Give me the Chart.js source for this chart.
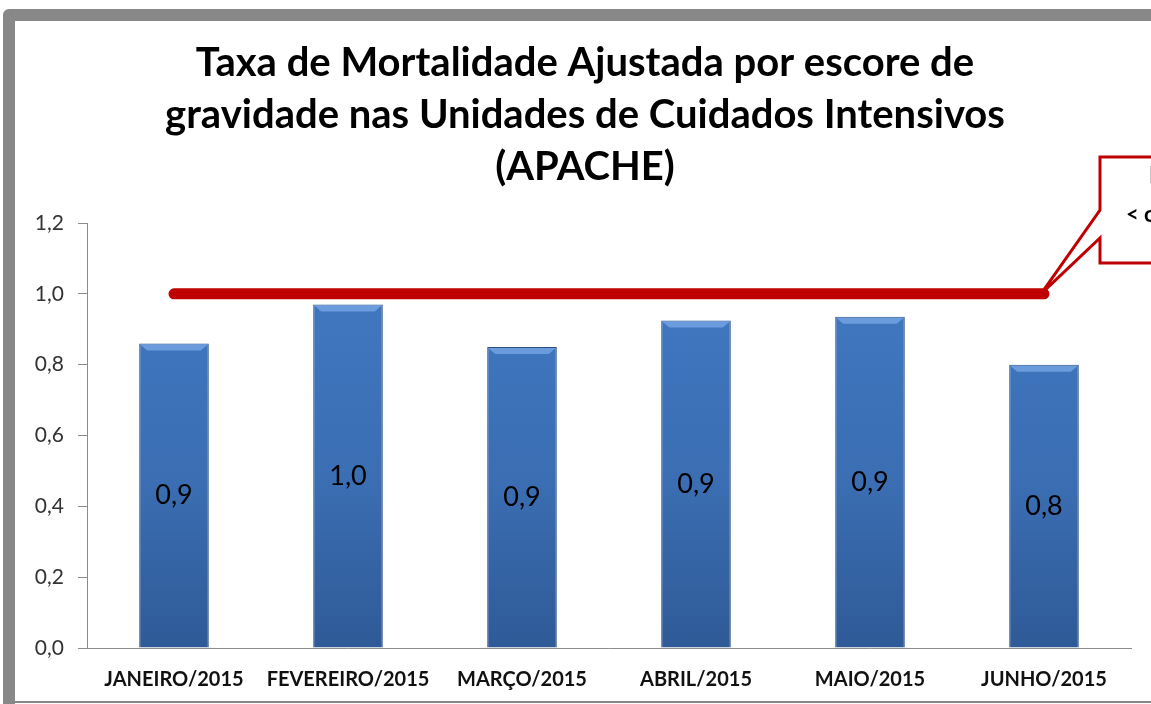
<!DOCTYPE html>
<html>
<head>
<meta charset="utf-8">
<script src="https://cdn.jsdelivr.net/npm/chart.js@4"></script>
<style>
  html, body { margin: 0; padding: 0; background: #fff; }
  #wrap { width: 1151px; height: 704px; }
</style>
</head>
<body>
<div id="wrap"><canvas id="apacheChart" width="1151" height="704"></canvas></div>
<script>
// Dados do gráfico
const meses = ['JANEIRO/2015', 'FEVEREIRO/2015', 'MARÇO/2015', 'ABRIL/2015', 'MAIO/2015', 'JUNHO/2015'];
const taxaApache = [0.86, 0.97, 0.85, 0.925, 0.935, 0.80];
const meta = [1, 1, 1, 1, 1, 1];
const tituloLinhas = ['Taxa de Mortalidade Ajustada por escore de', 'gravidade nas Unidades de Cuidados Intensivos', '(APACHE)'];
const caixaMeta = ['Meta', '< ou = 1'];

// formata com vírgula decimal (arredonda meio para cima, como o Excel)
function formatBR(v, d) {
    const f = Math.pow(10, d);
    return (Math.round(v * f + 1e-9) / f).toFixed(d).replace('.', ',');
}

// moldura cinza em volta do gráfico
const framePlugin = {
    id: 'framePlugin',
    beforeDraw(chart) {
        const { ctx } = chart;
        ctx.save();
        ctx.strokeStyle = '#888888';
        ctx.lineWidth = 12;
        ctx.lineJoin = 'round';
        ctx.beginPath();
        ctx.moveTo(9, 704);
        ctx.lineTo(9, 15);
        ctx.lineTo(1160, 15);
        ctx.stroke();
        ctx.lineWidth = 2;
        ctx.beginPath();
        ctx.moveTo(9, 702);
        ctx.lineTo(1151, 702);
        ctx.stroke();
        ctx.restore();
    }
};

// título em três linhas
const titlePlugin = {
    id: 'titlePlugin',
    afterDraw(chart) {
        const { ctx } = chart;
        ctx.save();
        ctx.fillStyle = '#000';
        ctx.font = 'bold 40px Lato';
        ctx.textAlign = 'center';
        ctx.textBaseline = 'middle';
        tituloLinhas.forEach((linha, i) => {
            ctx.fillText(linha, 585, 63 + i * 52);
        });
        ctx.restore();
    }
};

// brilho no topo das barras + rótulos de valor
const barExtras = {
    id: 'barExtras',
    afterDatasetsDraw(chart) {
        const { ctx } = chart;
        const metaBar = chart.getDatasetMeta(0);
        ctx.save();
        metaBar.data.forEach((bar, i) => {
            const left = bar.x - bar.width / 2;
            const right = bar.x + bar.width / 2;
            // bisel superior
            ctx.fillStyle = 'rgba(125,172,235,0.7)';
            ctx.beginPath();
            ctx.moveTo(left + 1, bar.y + 1);
            ctx.lineTo(right - 1, bar.y + 1);
            ctx.lineTo(right - 8, bar.y + 7);
            ctx.lineTo(left + 8, bar.y + 7);
            ctx.closePath();
            ctx.fill();

            ctx.fillStyle = '#000';
            ctx.font = '27px Lato';
            ctx.textAlign = 'center';
            ctx.textBaseline = 'middle';
            ctx.fillText(formatBR(taxaApache[i], 1), bar.x, (bar.y + bar.base) / 2);
        });
        ctx.restore();
    }
};

// caixa de texto da meta ligada ao fim da linha vermelha
const calloutPlugin = {
    id: 'calloutPlugin',
    afterDraw(chart) {
        const { ctx } = chart;
        const linePts = chart.getDatasetMeta(1).data;
        const tip = linePts[linePts.length - 1];
        const tipX = tip.x - 3, tipY = tip.y;
        const bx = 1100, by = 157, bh = 106;
        ctx.save();
        ctx.strokeStyle = '#C00000';
        ctx.fillStyle = '#ffffff';
        ctx.lineWidth = 3;
        ctx.beginPath();
        ctx.moveTo(bx, by);
        ctx.lineTo(1200, by);
        ctx.lineTo(1200, by + bh);
        ctx.lineTo(bx, by + bh);
        ctx.lineTo(bx, 238);
        ctx.lineTo(tipX, tipY);
        ctx.lineTo(bx, 210);
        ctx.closePath();
        ctx.fill();
        ctx.stroke();

        ctx.fillStyle = '#000';
        ctx.font = 'bold 22px Lato';
        ctx.textAlign = 'left';
        ctx.textBaseline = 'middle';
        ctx.fillText(caixaMeta[0], 1149, 176);
        ctx.fillText(caixaMeta[1], 1126, 215);
        ctx.restore();
    }
};

function barGradient(context) {
    const chart = context.chart;
    const area = chart.chartArea;
    if (!area) return '#3A6DB3';
    const g = chart.ctx.createLinearGradient(0, area.top, 0, area.bottom);
    g.addColorStop(0, '#417BC4');
    g.addColorStop(0.6, '#3B6EB3');
    g.addColorStop(1, '#2F5A97');
    return g;
}

const ctx = document.getElementById('apacheChart').getContext('2d');
new Chart(ctx, {
    data: {
        labels: meses,
        datasets: [{
            type: 'bar',
            data: taxaApache,
            backgroundColor: barGradient,
            borderColor: '#2B5188',
            borderWidth: 1,
            categoryPercentage: 1,
            barPercentage: 0.4,
            order: 2
        }, {
            type: 'line',
            data: meta,
            borderColor: '#C00000',
            borderWidth: 11,
            borderCapStyle: 'round',
            pointRadius: 0,
            pointHoverRadius: 0,
            fill: false,
            order: 1
        }]
    },
    options: {
        responsive: false,
        animation: false,
        events: [],
        layout: { padding: { left: 0, right: 20, top: 223, bottom: 0 } },
        plugins: {
            legend: { display: false },
            tooltip: { enabled: false },
            title: { display: false }
        },
        scales: {
            x: {
                grid: { display: false },
                border: { display: true, color: '#8C8C8C', width: 1 },
                ticks: {
                    color: '#111',
                    font: { family: 'Lato', size: 20, weight: 'bold' },
                    padding: 12,
                    maxRotation: 0,
                    autoSkip: false
                },
                afterFit(s) { s.height = 56; }
            },
            y: {
                min: 0,
                max: 1.2,
                grid: { drawOnChartArea: false, drawTicks: true, tickLength: 9, color: '#8C8C8C' },
                border: { display: true, color: '#8C8C8C', width: 1 },
                ticks: {
                    stepSize: 0.2,
                    color: '#333',
                    font: { family: 'Lato', size: 21 },
                    padding: 14,
                    callback: v => formatBR(v, 1)
                },
                afterFit(s) { s.width = 87; }
            }
        }
    },
    plugins: [framePlugin, titlePlugin, barExtras, calloutPlugin]
});
</script>
</body>
</html>
